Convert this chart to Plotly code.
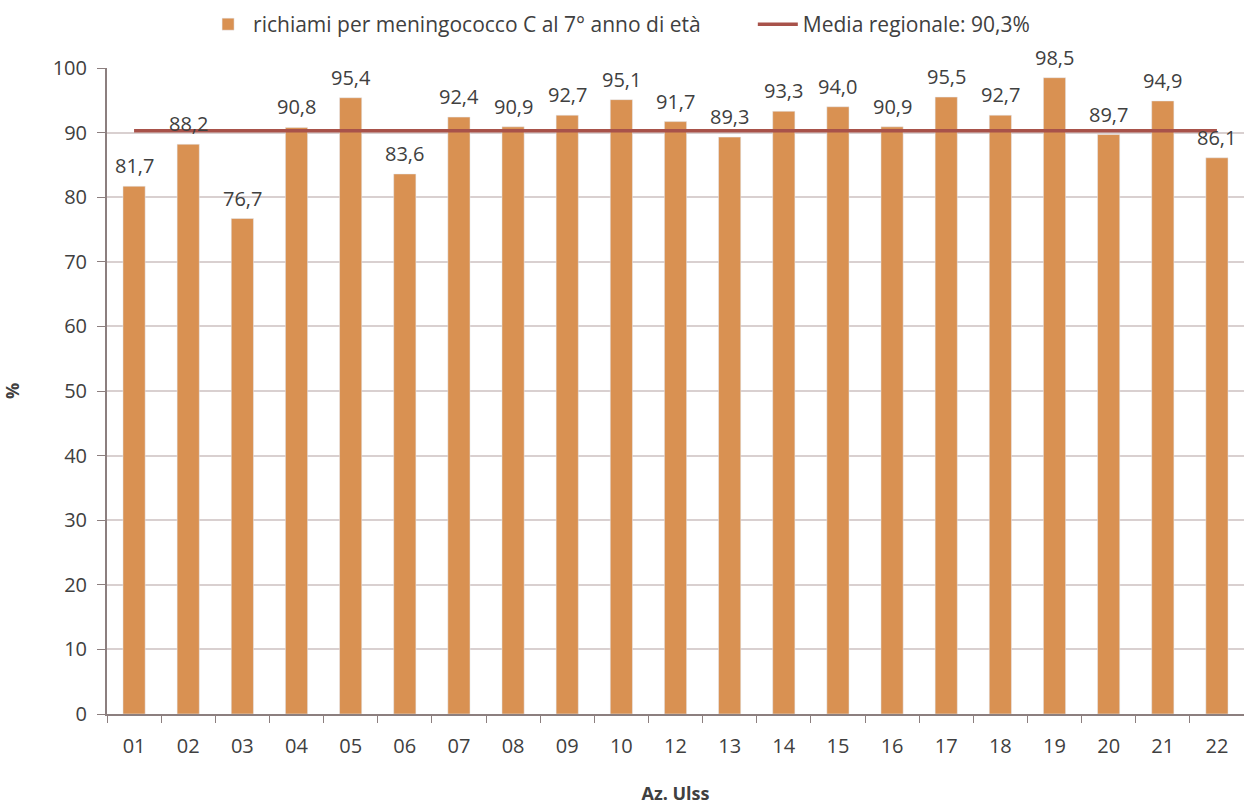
import plotly.graph_objects as go

# Copertura richiami meningococco C per Azienda Ulss
ulss = ["01", "02", "03", "04", "05", "06", "07", "08", "09", "10", "12",
        "13", "14", "15", "16", "17", "18", "19", "20", "21", "22"]
copertura = [81.7, 88.2, 76.7, 90.8, 95.4, 83.6, 92.4, 90.9, 92.7, 95.1, 91.7,
             89.3, 93.3, 94.0, 90.9, 95.5, 92.7, 98.5, 89.7, 94.9, 86.1]
media_regionale = 90.3
y_ticks = [0, 10, 20, 30, 40, 50, 60, 70, 80, 90, 100]

FONT = "Open Sans"
TEXT_COL = "#404040"
FS = 20

labels = [f"{v:.1f}".replace(".", ",") for v in copertura]

fig = go.Figure()
fig.add_trace(go.Bar(
    x=ulss, y=copertura,
    name="richiami per meningococco C al 7° anno di età",
    marker=dict(color="#D99152"),
    legend="legend",
))
fig.add_trace(go.Scatter(
    x=ulss, y=[media_regionale] * len(ulss),
    name=f"Media regionale: {media_regionale:.1f}%".replace(".", ","),
    mode="lines", line=dict(color="#A8524A", width=3.5),
    legend="legend2",
))

# Etichette dei valori sopra le barre (x = indice della categoria)
for i, (val, txt) in enumerate(zip(copertura, labels)):
    fig.add_annotation(x=i, y=val, xref="x", yref="y", text=txt, showarrow=False,
                       yanchor="bottom", yshift=5,
                       font=dict(family=FONT, size=FS, color=TEXT_COL))

legend_style = dict(orientation="h", xanchor="left", y=0.995, yanchor="top",
                    yref="container", font=dict(size=21, color=TEXT_COL),
                    itemwidth=40, bgcolor="rgba(0,0,0,0)")

fig.update_layout(
    width=1244, height=805,
    margin=dict(l=107, r=0, t=68, b=91),
    paper_bgcolor="white", plot_bgcolor="white",
    bargap=0.59,
    font=dict(family=FONT, size=FS, color=TEXT_COL),
    legend=dict(x=0.0845, **legend_style),
    legend2=dict(x=0.568, **legend_style),
    showlegend=True,
)
fig.update_xaxes(
    type="category", categoryorder="array", categoryarray=ulss,
    range=[-0.5, len(ulss) - 0.5],
    showline=True, linecolor="#8C7F7F", linewidth=2,
    ticks="outside", tickson="boundaries", ticklen=7, tickcolor="#8C7F7F",
    ticklabelstandoff=13,
    title=dict(text="<b>Az. Ulss</b>", font=dict(size=18, color=TEXT_COL), standoff=32),
)
fig.update_yaxes(
    range=[0, 100], tickvals=y_ticks, showline=True, linecolor="#8C7F7F", linewidth=2,
    ticks="outside", ticklen=8, tickcolor="#8C7F7F",
    showgrid=True, gridcolor="#D9D0D0", gridwidth=1.5, zeroline=False,
    ticklabelstandoff=6,
    title=dict(text="<b>%</b>", font=dict(size=18, color=TEXT_COL), standoff=30),
)

fig.write_html("out.html")
